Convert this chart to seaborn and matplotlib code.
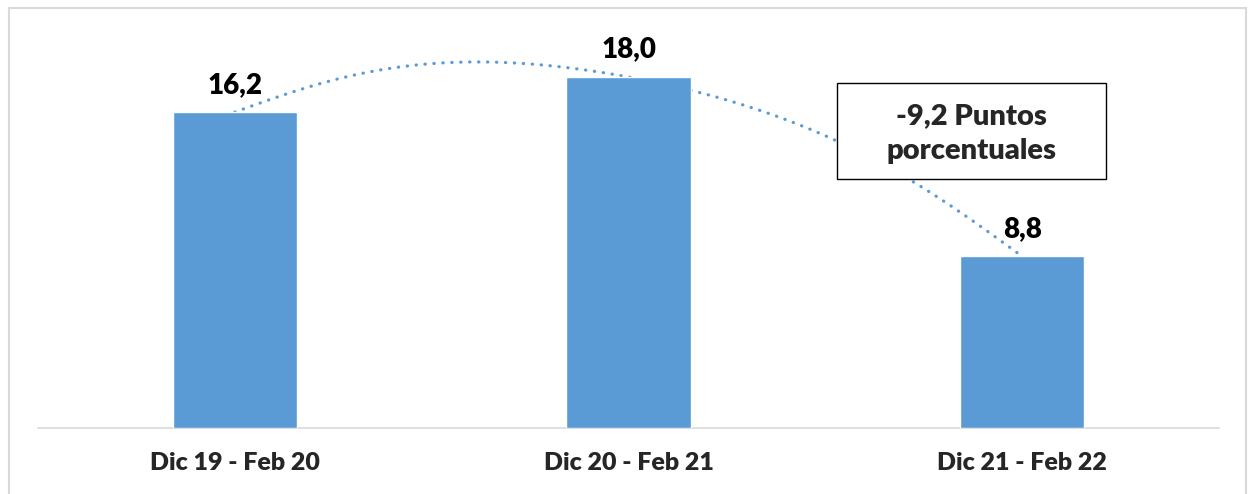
import numpy as np
import pandas as pd
import seaborn as sns
import matplotlib.pyplot as plt
from matplotlib.patches import Rectangle

periods = ["Dic 19 - Feb 20", "Dic 20 - Feb 21", "Dic 21 - Feb 22"]
values = [16.2, 18.0, 8.8]
value_labels = ["16,2", "18,0", "8,8"]
note_text = "-9,2 Puntos\nporcentuales"

bar_color = "#5B9BD5"
grid_grey = "#D9D9D9"
weight = "heavy"

sns.set_style("white")
plt.rcParams["font.family"] = ["Lato", "DejaVu Sans"]

df = pd.DataFrame({"periodo": periods, "valor": values})

fig = plt.figure(figsize=(12.48, 4.94), dpi=100)
ax = fig.add_axes([0.0304, 0.1336, 0.9464, 0.7895])

sns.barplot(data=df, x="periodo", y="valor", color=bar_color, saturation=1,
            width=0.315, ax=ax, zorder=3)


def smooth_curve(xs, ys, tension=0.25, n=60):
    # bezier smoothing similar to excel's smoothed line
    pts = np.column_stack([xs, ys]).astype(float)
    k = len(pts)
    out = []
    for i in range(k - 1):
        p0, p1 = pts[i], pts[i + 1]
        c1 = p0 + (pts[i + 1] - pts[i - 1]) * tension if i > 0 else None
        c2 = p1 - (pts[i + 2] - pts[i]) * tension if i + 2 < k else None
        if c1 is None:
            c1 = p0 + (c2 - p0) / 2
        if c2 is None:
            c2 = p1 + (c1 - p1) / 2
        t = np.linspace(0, 1, n)[:, None]
        seg = ((1 - t) ** 3 * p0 + 3 * t * (1 - t) ** 2 * c1
               + 3 * t ** 2 * (1 - t) * c2 + t ** 3 * p1)
        out.append(seg if i == 0 else seg[1:])
    return np.vstack(out)


curve = smooth_curve(np.arange(len(values)), values)
ax.plot(curve[:, 0], curve[:, 1], color=bar_color, lw=2.3,
        linestyle=(0, (0.1, 2.7)), dash_capstyle="round", zorder=2)

for i, (v, lab) in enumerate(zip(values, value_labels)):
    ax.annotate(lab, (i, v), xytext=(0, 14), textcoords="offset points",
                ha="center", va="baseline", fontsize=20, fontweight=weight,
                color="black", zorder=5)

ax.set_xlim(-0.5, 2.5)
ax.set_ylim(0, 20)
ax.set_xlabel("")
ax.set_ylabel("")
ax.set_yticks([])
ax.tick_params(axis="x", length=0, pad=17, labelsize=18)
for lab in ax.get_xticklabels():
    lab.set_fontweight(weight)
for s in ["top", "left", "right"]:
    ax.spines[s].set_visible(False)
ax.spines["bottom"].set_color(grid_grey)
ax.spines["bottom"].set_linewidth(1.2)

# annotation box
ax.add_patch(Rectangle((0.6765, 0.6385), 0.2278, 0.246, transform=ax.transAxes,
                       facecolor="white", edgecolor="black", lw=1.0, zorder=6))
ax.text(0.790, 0.755, note_text, transform=ax.transAxes, ha="center",
        va="center", fontsize=21, fontweight=weight, linespacing=1.38, zorder=7)

# chart border
fig.patches.append(Rectangle((9 / 1248, -0.05), 1237 / 1248, 1.05 - 8 / 494,
                             transform=fig.transFigure, fill=False,
                             edgecolor=grid_grey, lw=1.5))

fig.savefig("out.png", dpi=100)
